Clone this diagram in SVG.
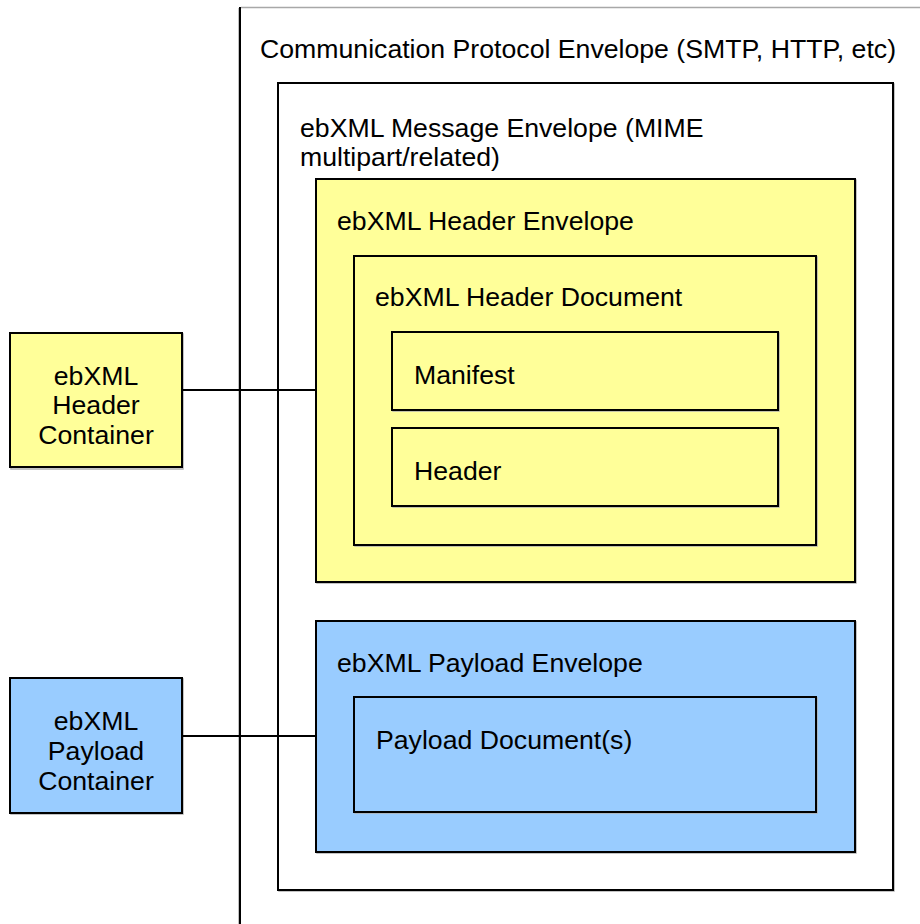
<svg xmlns="http://www.w3.org/2000/svg" width="920" height="924" viewBox="0 0 920 924">
<style>
  .box { stroke: #000; stroke-width: 2; }
  .shadow { fill: none; stroke: #b0b0b0; stroke-width: 1.5; }
  .white { fill: #ffffff; }
  .yellow { fill: #ffff99; }
  .blue { fill: #99ccff; }
  .t { font-family: "Liberation Sans", Arial, sans-serif; font-size: 26.67px; fill: #000; }
  .c { text-anchor: middle; }
  .conn { stroke: #000; stroke-width: 2; fill: none; }
</style>
<rect width="920" height="924" fill="#ffffff"/>
<g id="protocol-envelope">
  <line x1="241" y1="7.5" x2="920" y2="7.5" stroke="#a8a8a8" stroke-width="1.5"/>
  <line x1="238.5" y1="8" x2="238.5" y2="924" stroke="#c0c0c0" stroke-width="1"/>
  <line x1="240" y1="7" x2="240" y2="924" stroke="#000" stroke-width="2"/>
  <text class="t" x="260" y="58">Communication Protocol Envelope (SMTP, HTTP, etc)</text>
</g>
<g id="message-envelope">
  <rect x="279" y="84" width="615" height="807" class="shadow"/>
  <rect x="278" y="83" width="615" height="807" class="box white"/>
  <text class="t" x="300" y="137">ebXML Message Envelope (MIME</text>
  <text class="t" x="300" y="166">multipart/related)</text>
</g>
<g id="header-envelope">
  <rect x="317" y="180" width="539" height="403" class="shadow"/>
  <rect x="316" y="179" width="539" height="403" class="box yellow"/>
  <text class="t" x="337" y="230">ebXML Header Envelope</text>
</g>
<g id="header-document">
  <rect x="355" y="257" width="462" height="289" class="shadow"/>
  <rect x="354" y="256" width="462" height="289" class="box yellow"/>
  <text class="t" x="375" y="306">ebXML Header Document</text>
</g>
<g id="manifest">
  <rect x="393" y="333" width="386" height="78" class="shadow"/>
  <rect x="392" y="332" width="386" height="78" class="box yellow"/>
  <text class="t" x="414" y="384">Manifest</text>
</g>
<g id="header">
  <rect x="393" y="429" width="386" height="78" class="shadow"/>
  <rect x="392" y="428" width="386" height="78" class="box yellow"/>
  <text class="t" x="414" y="480">Header</text>
</g>
<g id="payload-envelope">
  <rect x="317" y="622" width="539" height="231" class="shadow"/>
  <rect x="316" y="621" width="539" height="231" class="box blue"/>
  <text class="t" x="337" y="672">ebXML Payload Envelope</text>
</g>
<g id="payload-document">
  <rect x="355" y="698" width="462" height="115" class="shadow"/>
  <rect x="354" y="697" width="462" height="115" class="box blue"/>
  <text class="t" x="376" y="749">Payload Document(s)</text>
</g>
<g id="header-container">
  <rect x="11" y="334" width="172" height="135" class="shadow"/>
  <rect x="10" y="333" width="172" height="134" class="box yellow"/>
  <text class="t c" x="96" y="385">ebXML</text>
  <text class="t c" x="96" y="414">Header</text>
  <text class="t c" x="96" y="444">Container</text>
</g>
<g id="payload-container">
  <rect x="11" y="679" width="172" height="135" class="shadow"/>
  <rect x="10" y="678" width="172" height="135" class="box blue"/>
  <text class="t c" x="96" y="730">ebXML</text>
  <text class="t c" x="96" y="760">Payload</text>
  <text class="t c" x="96" y="790">Container</text>
</g>
<g id="connectors">
  <line x1="182" y1="390" x2="316" y2="390" class="conn"/>
  <line x1="182" y1="736" x2="316" y2="736" class="conn"/>
</g>
</svg>
